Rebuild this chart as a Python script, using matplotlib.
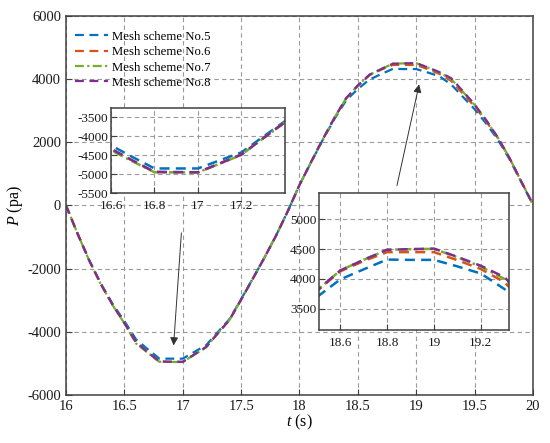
import numpy as np
import matplotlib
matplotlib.use("Agg")
import matplotlib.pyplot as plt
from matplotlib.ticker import FormatStrFormatter

plt.rcParams['font.family'] = ['Liberation Serif', 'DejaVu Serif']
plt.rcParams['mathtext.fontset'] = 'custom'
plt.rcParams['mathtext.rm'] = 'Liberation Serif'
plt.rcParams['mathtext.it'] = 'Liberation Serif:italic'
plt.rcParams['axes.unicode_minus'] = False

# time samples (s)
t = [16.0, 16.1, 16.2, 16.3, 16.4, 16.5, 16.6, 16.7, 16.8, 16.9,
     17.0, 17.1, 17.2, 17.3, 17.4, 17.5, 17.6, 17.7, 17.8, 17.9,
     18.0, 18.1, 18.2, 18.3, 18.4, 18.5, 18.6, 18.7, 18.8, 18.9,
     19.0, 19.1, 19.2, 19.3, 19.4, 19.5, 19.6, 19.7, 19.8, 19.9, 20.0]

# pressure (pa) for each mesh scheme
p_no8 = [0, -900, -1750, -2500, -3150, -3720, -4330, -4640, -4940, -4945,
         -4950, -4715, -4480, -4050, -3625, -2980, -2320, -1650, -950, -180,
         650, 1380, 2100, 2780, 3400, 3800, 4140, 4320, 4490, 4500,
         4510, 4370, 4220, 4030, 3620, 3200, 2700, 2150, 1500, 760, 30]
p_no5 = [0, -900, -1740, -2480, -3120, -3660, -4240, -4550, -4850, -4850,
         -4850, -4635, -4425, -4010, -3600, -2965, -2315, -1650, -950, -180,
         650, 1370, 2080, 2740, 3330, 3690, 3990, 4160, 4325, 4320,
         4320, 4210, 4090, 3830, 3440, 3050, 2590, 2080, 1460, 740, 30]
p_no6 = [0, -900, -1750, -2500, -3150, -3720, -4335, -4645, -4945, -4950,
         -4955, -4720, -4485, -4050, -3625, -2980, -2320, -1650, -950, -180,
         650, 1380, 2095, 2770, 3390, 3790, 4125, 4300, 4450, 4450,
         4450, 4315, 4165, 3945, 3540, 3140, 2660, 2130, 1490, 760, 30]
p_no7 = [0, -900, -1755, -2505, -3160, -3730, -4370, -4665, -4950, -4955,
         -4955, -4725, -4490, -4055, -3630, -2985, -2320, -1650, -950, -180,
         650, 1380, 2100, 2780, 3400, 3800, 4140, 4320, 4490, 4500,
         4505, 4365, 4205, 4000, 3600, 3185, 2690, 2145, 1500, 760, 30]

labels = ['Mesh scheme No.5', 'Mesh scheme No.6', 'Mesh scheme No.7', 'Mesh scheme No.8']
series = [p_no5, p_no6, p_no7, p_no8]
colors = ['#0072BD', '#D95319', '#77AC30', '#7E2F8E']
styles = [(0, (4, 2.5)), (0, (4, 2.5)), (0, (4, 1.5, 1, 1.5)), (0, (4, 2.5))]

grid_kw = dict(color='#9a9a9a', linestyle=(0, (4, 3)), linewidth=0.8)


def style_axes(ax, size):
    for s in ax.spines.values():
        s.set_color('#404040')
        s.set_linewidth(1.1)
    ax.tick_params(direction='in', labelsize=size, colors='#404040',
                   labelcolor='#1a1a1a', length=4)
    ax.grid(True, **grid_kw)
    ax.set_axisbelow(True)


fig = plt.figure(figsize=(5.5, 4.43), dpi=100)
ax = fig.add_axes([0.12, 0.1084, 0.849, 0.8555])
for p, c, ls, lab in zip(series, colors, styles, labels):
    ax.plot(t, p, color=c, linestyle=ls, linewidth=1.6, label=lab)
ax.set_xlim(16, 20)
ax.set_ylim(-6000, 6000)
ax.set_xticks(np.arange(16, 20.01, 0.5))
ax.set_yticks(np.arange(-6000, 6001, 2000))
ax.xaxis.set_major_formatter(FormatStrFormatter('%g'))
style_axes(ax, 10.5)
ax.set_xlabel('$t$ (s)', fontsize=11.5, labelpad=0)
ax.set_ylabel('$P$ (pa)', fontsize=11.5, labelpad=2)
ax.legend(loc='upper left', frameon=False, fontsize=9.2, handlelength=2.6,
          labelspacing=0.27, handletextpad=0.3, borderaxespad=0.3,
          bbox_to_anchor=(0.0, 0.985))

arrow = dict(arrowstyle='-|>', color='#333333', lw=0.7, mutation_scale=12)
ax.annotate('', xy=(16.92, -4520), xytext=(16.99, -780), arrowprops=arrow)
ax.annotate('', xy=(19.03, 3920), xytext=(18.83, 545), arrowprops=arrow)

# inset near the minimum
ax1 = fig.add_axes([0.2018, 0.5643, 0.3162, 0.1919])
for p, c, ls in zip(series, colors, styles):
    ax1.plot(t, p, color=c, linestyle=ls, linewidth=1.8)
ax1.set_xlim(16.6, 17.4)
ax1.set_ylim(-5500, -3250)
ax1.set_xticks([16.6, 16.8, 17.0, 17.2])
ax1.set_yticks([-5500, -5000, -4500, -4000, -3500])
ax1.xaxis.set_major_formatter(FormatStrFormatter('%g'))
style_axes(ax1, 9.5)
ax1.tick_params(axis='x', pad=5)
ax1.tick_params(axis='y', pad=2)

# inset near the maximum
ax2 = fig.add_axes([0.58, 0.2551, 0.3455, 0.3099])
for p, c, ls in zip(series, colors, styles):
    ax2.plot(t, p, color=c, linestyle=ls, linewidth=1.8)
ax2.set_xlim(18.51, 19.32)
ax2.set_ylim(3140, 5450)
ax2.set_xticks([18.6, 18.8, 19.0, 19.2])
ax2.set_yticks([3500, 4000, 4500, 5000])
ax2.xaxis.set_major_formatter(FormatStrFormatter('%g'))
style_axes(ax2, 9.5)
ax2.tick_params(axis='x', pad=5)
ax2.tick_params(axis='y', pad=2)

fig.savefig('out.png', dpi=100)
